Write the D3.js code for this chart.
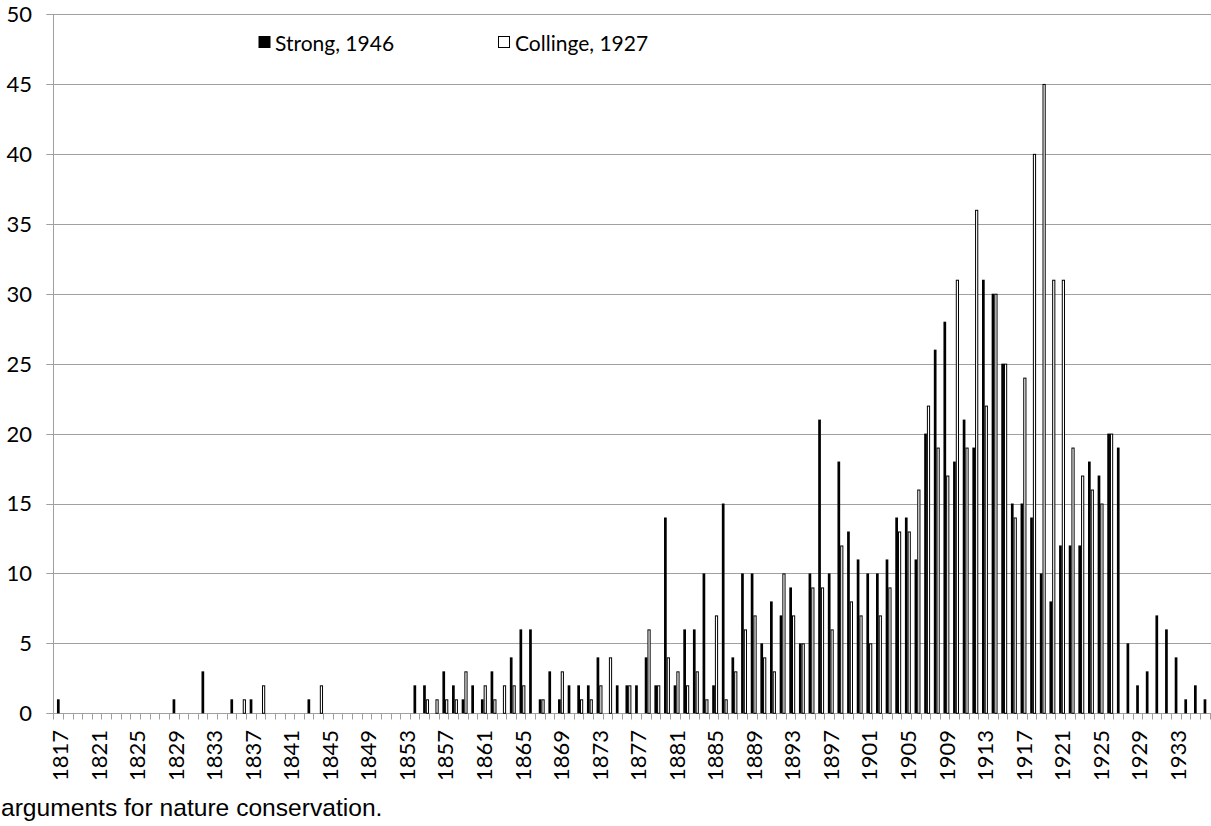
<!DOCTYPE html>
<html>
<head>
<meta charset="utf-8">
<script src="https://cdn.jsdelivr.net/npm/d3@7/dist/d3.min.js"></script>
<style>
  html, body { margin: 0; padding: 0; background: #ffffff; }
  svg { display: block; }
</style>
</head>
<body>
<svg id="chart" width="1211" height="826"></svg>
<script>
// ---------- DATA ----------
const years = d3.range(1817, 1937); // categories 1817..1936

const strong1946 = [
  1,0,0,0,0,0,0,0,0,0,        // 1817-1826
  0,0,1,0,0,3,0,0,1,0,        // 1827-1836
  1,0,0,0,0,0,1,0,0,0,        // 1837-1846
  0,0,0,0,0,0,0,2,2,0,        // 1847-1856
  3,2,1,2,1,3,0,4,6,6,        // 1857-1866
  1,3,1,2,2,2,4,0,2,2,        // 1867-1876
  2,4,2,14,2,6,6,10,2,15,     // 1877-1886
  4,10,10,5,8,7,9,5,10,21,    // 1887-1896
  10,18,13,11,10,10,11,14,14,11, // 1897-1906
  20,26,28,18,21,19,31,30,25,15, // 1907-1916
  15,14,10,8,12,12,12,18,17,20,  // 1917-1926
  19,5,2,3,7,6,4,1,2,1           // 1927-1936
];

const collinge1927 = [
  0,0,0,0,0,0,0,0,0,0,        // 1817-1826
  0,0,0,0,0,0,0,0,0,1,        // 1827-1836
  0,2,0,0,0,0,0,2,0,0,        // 1837-1846
  0,0,0,0,0,0,0,0,1,1,        // 1847-1856
  1,1,3,0,2,1,2,2,2,0,        // 1857-1866
  1,0,3,0,1,1,2,4,0,2,        // 1867-1876
  0,6,2,4,3,2,3,1,7,1,        // 1877-1886
  3,6,7,4,3,10,7,5,9,9,       // 1887-1896
  6,12,8,7,5,7,9,13,13,16,    // 1897-1906
  22,19,17,31,19,36,22,30,25,14, // 1907-1916
  24,40,45,31,31,19,17,16,15,20, // 1917-1926
  0,0,0,0,0,0,0,0,0,0            // 1927-1936
];

const xTickLabels = [1817,1821,1825,1829,1833,1837,1841,1845,1849,1853,1857,1861,
  1865,1869,1873,1877,1881,1885,1889,1893,1897,1901,1905,1909,1913,1917,1921,1925,1929,1933];
const yTickValues = [0,5,10,15,20,25,30,35,40,45,50];
const seriesNames = ["Strong, 1946", "Collinge, 1927"];
const captionText = "arguments for nature conservation.";

// ---------- LAYOUT ----------
const svg = d3.select("#chart");
const plotLeft = 53.3, plotRight = 1209.6, plotTop = 14, plotBottom = 713.3;
const gridColor = "#a0a0a0";
const tickFont = "Lato, 'Open Sans', sans-serif";

const x = d3.scaleBand().domain(years).range([plotLeft, plotRight]).padding(0);
const y = d3.scaleLinear().domain([0, 50]).range([plotBottom, plotTop]);
const bw = x.bandwidth();

svg.append("rect").attr("width", 1211).attr("height", 826).attr("fill", "#fff");

// gridlines
const crisp = v => Math.round(v) + 0.5;
svg.append("g").selectAll("line").data(yTickValues).join("line")
  .attr("x1", plotLeft - 7).attr("x2", plotRight + 2)
  .attr("y1", d => crisp(y(d))).attr("y2", d => crisp(y(d)))
  .attr("stroke", gridColor).attr("stroke-width", 1);

// y axis line
svg.append("line")
  .attr("x1", crisp(plotLeft)).attr("x2", crisp(plotLeft))
  .attr("y1", crisp(y(50))).attr("y2", crisp(y(0)))
  .attr("stroke", gridColor);

// x axis ticks at category boundaries
const boundaries = years.map(d => x(d)).concat([plotRight]);
svg.append("g").selectAll("line").data(boundaries).join("line")
  .attr("x1", d => crisp(d)).attr("x2", d => crisp(d))
  .attr("y1", crisp(y(0))).attr("y2", crisp(y(0)) + 6)
  .attr("stroke", gridColor);

// y tick labels
svg.append("g").selectAll("text").data(yTickValues).join("text")
  .attr("x", 32).attr("y", d => y(d))
  .attr("dy", "0.36em")
  .attr("text-anchor", "end")
  .attr("font-family", tickFont).attr("font-size", 22).attr("fill", "#000")
  .text(d => d);

// x tick labels (rotated)
svg.append("g").selectAll("text").data(xTickLabels).join("text")
  .attr("transform", d => `translate(${x(d) + bw / 2},730) rotate(-90)`)
  .attr("dy", "0.45em")
  .attr("text-anchor", "end")
  .attr("font-family", tickFont).attr("font-size", 22).attr("fill", "#000")
  .text(d => d);

// bars
const sData = years.map((yr, i) => ({ yr, v: strong1946[i] })).filter(d => d.v > 0);
const cData = years.map((yr, i) => ({ yr, v: collinge1927[i] })).filter(d => d.v > 0);

svg.append("g").selectAll("rect").data(sData).join("rect")
  .attr("x", d => x(d.yr) + 0.38 * bw)
  .attr("width", 2.7)
  .attr("y", d => y(d.v))
  .attr("height", d => y(0) - y(d.v))
  .attr("fill", "#000");

svg.append("g").selectAll("rect").data(cData).join("rect")
  .attr("x", d => x(d.yr) + 0.38 * bw + 3.2)
  .attr("width", 2.2)
  .attr("y", d => y(d.v) + 0.5)
  .attr("height", d => y(0) - y(d.v) - 0.5)
  .attr("fill", "#fff")
  .attr("stroke", "#000").attr("stroke-width", 1);

// legend
const legend = svg.append("g");
legend.append("rect").attr("x", 258.5).attr("y", 36).attr("width", 12).attr("height", 12).attr("fill", "#000");
legend.append("text").attr("x", 275).attr("y", 51)
  .attr("font-family", tickFont).attr("font-size", 21).attr("fill", "#000").text(seriesNames[0]);
legend.append("rect").attr("x", 498.5).attr("y", 36.5).attr("width", 11).attr("height", 11)
  .attr("fill", "#fff").attr("stroke", "#000").attr("stroke-width", 1);
legend.append("text").attr("x", 515).attr("y", 51)
  .attr("font-family", tickFont).attr("font-size", 21).attr("fill", "#000").text(seriesNames[1]);

// caption
svg.append("text").attr("x", 1).attr("y", 816)
  .attr("font-family", "'Liberation Sans', Arial, sans-serif").attr("font-size", 24.6)
  .attr("fill", "#000").text(captionText);
</script>
</body>
</html>
